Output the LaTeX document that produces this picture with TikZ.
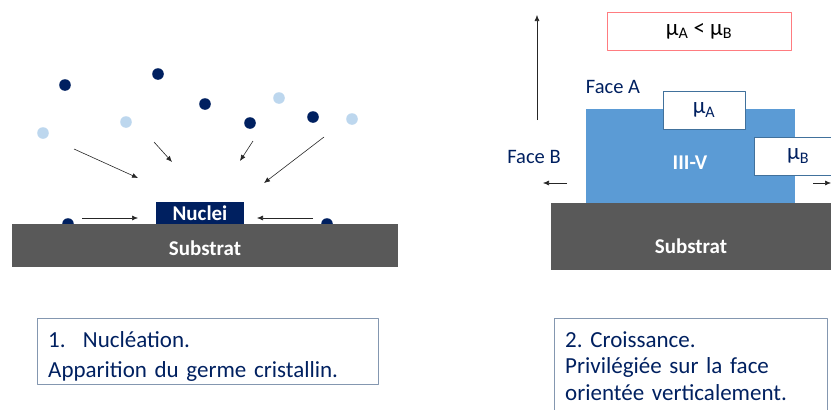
\documentclass[tikz,border=0pt]{standalone}
\usepackage{fontspec}
\setmainfont{Carlito}
\usetikzlibrary{arrows.meta}
\definecolor{navy}{HTML}{002060}
\definecolor{clair}{HTML}{BDD7EE}
\definecolor{gris}{HTML}{595959}
\definecolor{bleu}{HTML}{5B9BD5}
\definecolor{rose}{HTML}{FF7C80}
\definecolor{cadre}{HTML}{8497B0}
\definecolor{bord}{HTML}{41719C}
\begin{document}
\frenchspacing
\begin{tikzpicture}[x=1pt, y=-1pt, line join=round, >={Latex[length=6pt,width=5pt]},
    bloc/.style={fill=#1, draw=none, inner sep=0pt},
    blanc/.style={text=white, font=\fontsize{21}{24}\selectfont\bfseries},
    fleche/.style={->, line width=0.6pt, black!85},
    mu/.style={draw=bord, fill=white, inner sep=0pt, text=navy, font=\fontsize{23}{26}\selectfont},
    face/.style={text=navy, font=\fontsize{20.5}{24}\selectfont},
    legende/.style={anchor=north west, inner sep=0pt, text=navy, align=left, font=\fontsize{23}{28}\selectfont}]
    \useasboundingbox (0,0) rectangle (831,410);
    \clip (0,0) rectangle (831,410);
    % 1. nucleation
    \foreach \px/\py/\col [count=\i] in {65/85/navy, 158/74/navy, 205/104/navy, 250/123/navy, 313/117/navy, 68/224/navy, 327/224/navy, 43/133/clair, 126/122/clair, 279/98/clair, 352/119/clair}
        \fill[\col] (\px,\py) coordinate (at\i) circle (5.8);
    \node[bloc=gris, minimum width=386, minimum height=43] (sub1) at (205,245.5) {};
    \node[blanc] (txt1) at (205,248) {Substrat};
    \node[bloc=navy, minimum width=88, minimum height=22, blanc] (germe) at (200,213) {Nuclei};
    \coordinate (d1) at (74,149);  \coordinate (f1) at (138,178);
    \coordinate (d2) at (154,142); \coordinate (f2) at (172,162);
    \coordinate (d3) at (253,141); \coordinate (f3) at (240,161);
    \coordinate (d4) at (324,137); \coordinate (f4) at (264,183);
    \coordinate (d5) at (82,218);  \coordinate (f5) at (138,218);
    \coordinate (d6) at (313,218); \coordinate (f6) at (257,218);
    \foreach \i in {1,...,6} \draw[fleche] (d\i) -- (f\i);
    % 2. croissance
    \node[bloc=gris, minimum width=280, minimum height=67] (sub2) at (691,236.5) {};
    \node[blanc] (txt2) at (691,246) {Substrat};
    \node[bloc=bleu, minimum width=209, minimum height=94] (cristal) at (690.5,156) {};
    \node[blanc] (txt3) at (690,163) {III-V};
    \node[mu, minimum width=82, minimum height=38] (muA) at (704,110) {μ\textsubscript{A}};
    \node[mu, minimum width=110, minimum height=38, anchor=north west, text width=86, align=left, inner xsep=33pt] (muB) at (754,137) {μ\textsubscript{B}};
    \node[draw=rose, minimum width=184, minimum height=38, inner sep=0pt, font=\fontsize{23}{26}\selectfont] (ineg) at (699,31) {μ\textsubscript{A} < μ\textsubscript{B}};
    \node[face] (faceA) at (613,87) {Face A};
    \node[face] (faceB) at (534,157) {Face B};
    \coordinate (haut0) at (537,120); \coordinate (haut1) at (537,15);
    \coordinate (gau0) at (567,183);  \coordinate (gau1) at (543,183);
    \coordinate (dro0) at (813,183);  \coordinate (dro1) at (831,183);
    \draw[fleche] (haut0) -- (haut1);
    \draw[fleche] (gau0) -- (gau1);
    \draw[fleche] (dro0) -- (dro1);
    % legendes
    \node[legende, text width=319, font=\fontsize{23}{30}\selectfont] (leg1) at (48,331)
        {1.\hspace{0.75em}Nucléation.\\Apparition du germe cristallin.};
    \draw[cadre] (37,318) rectangle (378,384);
    \node[legende, text width=255, font=\fontsize{23}{26.5}\selectfont] (leg2) at (565,331)
        {2. Croissance.\\Privilégiée sur la face\\orientée verticalement.};
    \draw[cadre] (554,430) |- (827,318) -- (827,430);
\end{tikzpicture}
\end{document}
